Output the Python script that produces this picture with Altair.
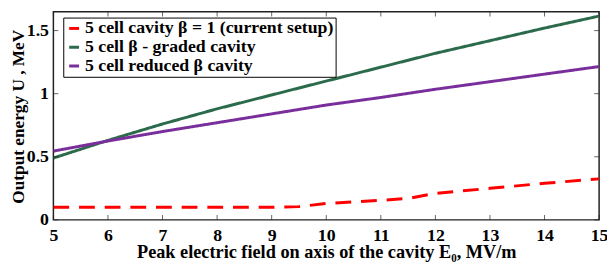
import altair as alt
import pandas as pd

series_names = ["5 cell cavity β = 1 (current setup)", "5 cell β - graded cavity", "5 cell reduced β cavity"]
colors = ["#ff0000", "#2b6b4c", "#7a2e9c"]

red_x = [5, 6, 7, 8, 9, 9.5, 10, 11, 11.5, 12, 13, 14, 15]
red_y = [0.10, 0.10, 0.10, 0.10, 0.10, 0.105, 0.13, 0.155, 0.17, 0.21, 0.25, 0.29, 0.325]
green_x = [5, 6, 7, 8, 9, 10, 11, 12, 13, 14, 15]
green_y = [0.49, 0.63, 0.76, 0.88, 0.99, 1.10, 1.21, 1.32, 1.42, 1.52, 1.615]
purple_x = [5, 6, 7, 8, 9, 10, 11, 12, 13, 14, 15]
purple_y = [0.545, 0.625, 0.70, 0.77, 0.84, 0.91, 0.97, 1.035, 1.095, 1.155, 1.215]

x_ticks = [5, 6, 7, 8, 9, 10, 11, 12, 13, 14, 15]
y_ticks = [0, 0.5, 1, 1.5]
x_min, x_max = 5, 15
y_min, y_max = 0, 1.65

rows = []
for name, xs, ys in zip(series_names, [red_x, green_x, purple_x], [red_y, green_y, purple_y]):
    for xv, yv in zip(xs, ys):
        rows.append({"series": name, "E": xv, "U": yv})
df = pd.DataFrame(rows)

FONT = "Liberation Serif"

xscale = alt.Scale(domain=[x_min, x_max], nice=False)
yscale = alt.Scale(domain=[y_min, y_max], nice=False)

lines = alt.Chart(df).mark_line(strokeWidth=3, clip=True).encode(
    x=alt.X("E:Q", scale=xscale,
            axis=alt.Axis(title="Peak electric field on axis of the cavity E₀, MV/m",
                          values=x_ticks, grid=False, orient="bottom", format="d",
                          domain=False, ticks=False, labelPadding=7,
                          titleFontSize=18.5, titleY=38, titleBaseline="alphabetic")),
    y=alt.Y("U:Q", scale=yscale,
            axis=alt.Axis(title="Output energy U , MeV", values=y_ticks,
                          grid=False, orient="left", domain=False, ticks=False, labelPadding=5,
                          titleFontSize=17.5, titleX=-35, titleY=106, titleBaseline="middle",
                          labelExpr="datum.value == 0 ? '0' : datum.value == 1 ? '1' : format(datum.value, '.1f')")),
    color=alt.Color("series:N", scale=alt.Scale(domain=series_names, range=colors),
                    legend=alt.Legend(title=None, orient="none", legendX=10, legendY=6,
                                      labelFont=FONT, labelFontSize=18, labelFontWeight="bold",
                                      labelColor="black")),
    strokeDash=alt.StrokeDash("series:N", scale=alt.Scale(domain=series_names, range=[[16, 10], [1, 0], [1, 0]]),
                              legend=None),
    detail="series:N",
)

xt = pd.DataFrame({"t": x_ticks})
yt = pd.DataFrame({"t": y_ticks})
tick_color = "#222222"

bottom_ticks = alt.Chart(xt).mark_tick(orient="vertical", size=5, yOffset=-2.5, color=tick_color, thickness=1).encode(
    x=alt.X("t:Q", scale=xscale), y=alt.datum(y_min, scale=yscale))
top_ticks = alt.Chart(xt).mark_tick(orient="vertical", size=5, yOffset=2.5, color=tick_color, thickness=1).encode(
    x=alt.X("t:Q", scale=xscale), y=alt.datum(y_max, scale=yscale))
left_ticks = alt.Chart(yt).mark_tick(orient="horizontal", size=5, xOffset=2.5, color=tick_color, thickness=1).encode(
    y=alt.Y("t:Q", scale=yscale), x=alt.datum(x_min, scale=xscale))
right_ticks = alt.Chart(yt).mark_tick(orient="horizontal", size=5, xOffset=-2.5, color=tick_color, thickness=1).encode(
    y=alt.Y("t:Q", scale=yscale), x=alt.datum(x_max, scale=xscale))

chart = alt.layer(lines, bottom_ticks, top_ticks, left_ticks, right_ticks).properties(
    width=553, height=211,
    autosize=alt.AutoSizeParams(type="none"),
    padding={"left": 46, "top": 2, "right": 8, "bottom": 43},
).configure(font=FONT).configure_axis(
    labelFont=FONT, labelFontSize=18, labelFontWeight="bold", labelColor="black",
    titleFont=FONT, titleFontWeight="bold", titleColor="black",
    labelFlush=False,
).configure_legend(
    symbolType="stroke", symbolStrokeWidth=3, symbolSize=100,
    labelFontSize=18, labelFont=FONT, labelFontWeight="bold", labelColor="black",
    labelLimit=500, strokeColor="black", fillColor="white",
    padding=2, rowPadding=1, symbolOffset=0, labelOffset=2,
).configure_view(stroke="#222222", strokeWidth=1.5)

chart.save("out.html", embed_options={"renderer": "svg", "actions": False})
